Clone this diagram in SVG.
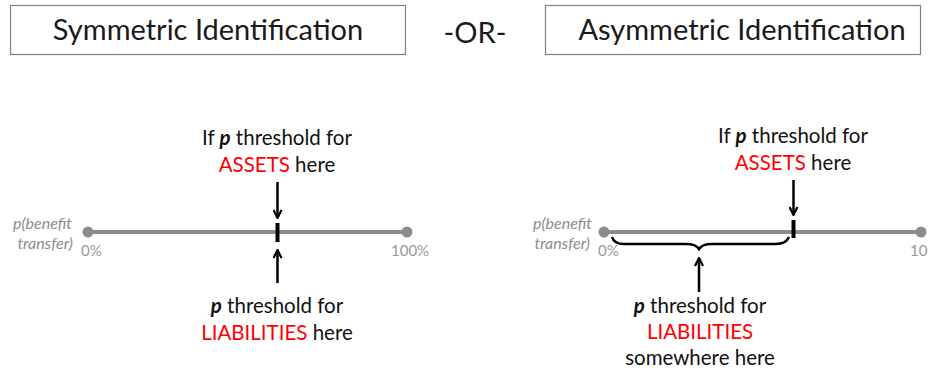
<svg xmlns="http://www.w3.org/2000/svg" width="928" height="372" viewBox="0 0 928 372">
  <defs>
    <style>
      .title { font-family: Lato, "Open Sans", sans-serif; font-size: 29px; fill: #1a1a1a; }
      .lbl { font-family: Lato, "Open Sans", sans-serif; font-size: 20.5px; fill: #111; text-anchor: middle; }
      .red { fill: #ff0000; }
      .pct { font-family: Lato, "Open Sans", sans-serif; font-size: 15px; fill: #999; }
      .axis { font-family: Lato, "Open Sans", sans-serif; font-size: 16px; font-style: italic; fill: #8c8c8c; text-anchor: end; }
      .box { fill: #fff; stroke: #7f7f8c; stroke-width: 1.2; }
      .scale { stroke: #8c8c8c; stroke-width: 4; }
      .dot { fill: #8c8c8c; }
      .tick { stroke: #000; stroke-width: 4; }
      .arrow { stroke: #000; stroke-width: 2.5; fill: none; marker-end: url(#head); }
      .brace { stroke: #000; stroke-width: 2.5; fill: none; }
    </style>
    <marker id="head" viewBox="0 0 10 10" refX="9" refY="5" markerWidth="4" markerHeight="4" orient="auto" markerUnits="strokeWidth">
      <path d="M1,1 L9,5 L1,9" fill="none" stroke="#000" stroke-width="2.2"/>
    </marker>
  </defs>

  <!-- Headings -->
  <g id="symmetric-title">
    <rect class="box" x="10.5" y="5.5" width="395" height="49"/>
    <text class="title" x="208" y="40" text-anchor="middle">Symmetric Identification</text>
  </g>
  <g id="or-label">
    <text class="title" x="475" y="43" text-anchor="middle">-OR-</text>
  </g>
  <g id="asymmetric-title">
    <rect class="box" x="545.5" y="5.5" width="375" height="49"/>
    <text class="title" x="742" y="40" text-anchor="middle">Asymmetric Identification</text>
  </g>

  <!-- Left scale: symmetric case -->
  <g id="symmetric-scale">
    <text class="axis" x="72" y="229">p(benefit</text>
    <text class="axis" x="73" y="249">transfer)</text>
    <line class="scale" x1="88" y1="232" x2="407" y2="232"/>
    <circle class="dot" cx="88" cy="232" r="5.5"/>
    <circle class="dot" cx="407" cy="232" r="5.5"/>
    <text class="pct" x="81" y="256">0%</text>
    <text class="pct" x="391" y="256">100%</text>
    <line class="tick" x1="277.5" y1="223" x2="277.5" y2="242"/>
  </g>
  <g id="symmetric-assets">
    <text class="lbl" x="277" y="145">If <tspan font-style="italic" font-weight="bold">p</tspan> threshold for</text>
    <text class="lbl" x="277" y="172"><tspan class="red">ASSETS</tspan> here</text>
  </g>
  <g id="symmetric-liabilities">
    <text class="lbl" x="277" y="313"><tspan font-style="italic" font-weight="bold">p</tspan> threshold for</text>
    <text class="lbl" x="277" y="340"><tspan class="red">LIABILITIES</tspan> here</text>
  </g>

  <!-- Right scale: asymmetric case -->
  <g id="asymmetric-scale">
    <text class="axis" x="592" y="229">p(benefit</text>
    <text class="axis" x="590" y="249">transfer)</text>
    <line class="scale" x1="604" y1="232" x2="921" y2="232"/>
    <circle class="dot" cx="604" cy="232" r="5.5"/>
    <circle class="dot" cx="921" cy="232" r="5.5"/>
    <text class="pct" x="598" y="256">0%</text>
    <text class="pct" x="910" y="256">100%</text>
    <line class="tick" x1="793.5" y1="220" x2="793.5" y2="238"/>
  </g>
  <g id="asymmetric-assets">
    <text class="lbl" x="793" y="143">If <tspan font-style="italic" font-weight="bold">p</tspan> threshold for</text>
    <text class="lbl" x="793" y="170"><tspan class="red">ASSETS</tspan> here</text>
  </g>
  <g id="asymmetric-liabilities">
    <text class="lbl" x="700" y="313"><tspan font-style="italic" font-weight="bold">p</tspan> threshold for</text>
    <text class="lbl red" x="700" y="339">LIABILITIES</text>
    <text class="lbl" x="700" y="365">somewhere here</text>
  </g>

  <!-- Connectors -->
  <g id="connectors">
    <line class="arrow" x1="277.5" y1="182" x2="277.5" y2="218"/>
    <line class="arrow" x1="277.5" y1="283" x2="277.5" y2="250"/>
    <line class="arrow" x1="793.5" y1="180" x2="793.5" y2="215"/>
    <line class="arrow" x1="699" y1="292" x2="699" y2="258"/>
    <path class="brace" d="M612,237 Q614,244 624,244 L686,244 Q696,244 699,249 Q702,244 712,244 L776,244 Q786,244 789,237"/>
  </g>
</svg>
